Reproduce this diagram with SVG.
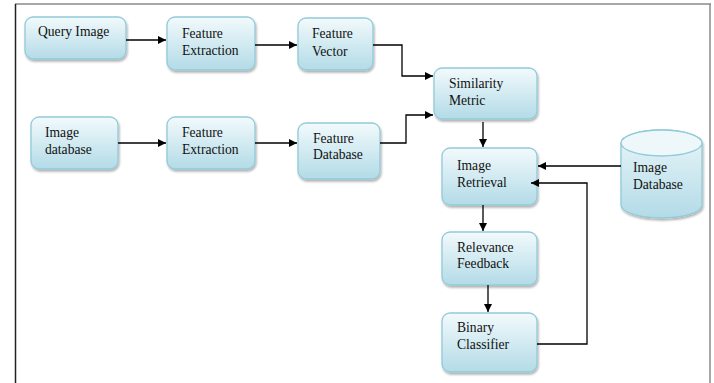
<svg xmlns="http://www.w3.org/2000/svg" width="714" height="383" viewBox="0 0 714 383">
<defs>
<linearGradient id="g" x1="0" y1="0" x2="0" y2="1">
<stop offset="0" stop-color="#f2fafc"/>
<stop offset="1" stop-color="#b3dbe7"/>
</linearGradient>
<linearGradient id="gc" x1="0" y1="0" x2="0" y2="1">
<stop offset="0" stop-color="#eaf6f9"/>
<stop offset="1" stop-color="#b3dbe7"/>
</linearGradient>
<filter id="sh" x="-10%" y="-10%" width="125%" height="130%">
<feDropShadow dx="1" dy="2" stdDeviation="1.2" flood-color="#000" flood-opacity="0.3"/>
</filter>
<marker id="ah" viewBox="0 0 10 10" refX="10" refY="5" markerWidth="8" markerHeight="8" markerUnits="userSpaceOnUse" orient="auto">
<path d="M0,0 L10,5 L0,10 z" fill="#000"/>
</marker>
</defs>
<style>
.box{fill:url(#g);stroke:#92cad9;stroke-width:1.3;filter:url(#sh)}
.t{font-family:"Liberation Serif","Times New Roman",serif;font-size:13.6px;fill:#111}
.c{fill:none;stroke:#000;stroke-width:1.3;marker-end:url(#ah)}
</style>
<rect width="714" height="383" fill="#fff"/>
<g id="frame">
<line x1="15" y1="4" x2="711" y2="4" stroke="#8a8a8a" stroke-width="1.5"/>
<line x1="710" y1="4" x2="710" y2="383" stroke="#8a8a8a" stroke-width="1.5"/>
<line x1="15.5" y1="4" x2="15.5" y2="383" stroke="#222" stroke-width="1.5"/>
</g>
<g id="n-query"><rect class="box" x="25" y="17" width="101" height="42" rx="8"/><text class="t" x="38" y="36">Query Image</text></g>
<g id="n-fe1"><rect class="box" x="167" y="17" width="88" height="53" rx="8"/><text class="t" x="182" y="38">Feature</text><text class="t" x="182" y="55">Extraction</text></g>
<g id="n-fv"><rect class="box" x="298" y="18" width="75" height="52" rx="8"/><text class="t" x="312" y="38">Feature</text><text class="t" x="312" y="56">Vector</text></g>
<g id="n-sm"><rect class="box" x="434" y="68" width="103" height="51" rx="8"/><text class="t" x="449" y="88">Similarity</text><text class="t" x="449" y="105">Metric</text></g>
<g id="n-imgdb"><rect class="box" x="31" y="117" width="87" height="52" rx="8"/><text class="t" x="45" y="137">Image</text><text class="t" x="45" y="154">database</text></g>
<g id="n-fe2"><rect class="box" x="167" y="117" width="88" height="52" rx="8"/><text class="t" x="182" y="137">Feature</text><text class="t" x="182" y="154">Extraction</text></g>
<g id="n-fd"><rect class="box" x="298" y="123" width="82" height="56" rx="8"/><text class="t" x="313" y="143">Feature</text><text class="t" x="313" y="159">Database</text></g>
<g id="n-ir"><rect class="box" x="442" y="148" width="95" height="57" rx="8"/><text class="t" x="457" y="170">Image</text><text class="t" x="457" y="187">Retrieval</text></g>
<g id="n-rf"><rect class="box" x="442" y="232" width="95" height="53" rx="8"/><text class="t" x="457" y="252">Relevance</text><text class="t" x="457" y="268">Feedback</text></g>
<g id="n-bc"><rect class="box" x="442" y="313" width="95" height="59" rx="8"/><text class="t" x="457" y="332">Binary</text><text class="t" x="457" y="349">Classifier</text></g>
<g id="n-cyl">
<path d="M621,143 L621,205 A40.5,13 0 0 0 702,205 L702,143 A40.5,13 0 0 0 621,143 Z" fill="url(#gc)" stroke="#92cad9" stroke-width="1.3" filter="url(#sh)"/>
<ellipse cx="661.5" cy="143" rx="40.5" ry="13" fill="#eef8fb" stroke="#92cad9" stroke-width="1.3"/>
<text class="t" x="633" y="172">Image</text><text class="t" x="633" y="189">Database</text>
</g>
<g id="connectors">
<path class="c" d="M126,40 L166,40"/>
<path class="c" d="M255,45 L297,45"/>
<path class="c" d="M373,45 L402,45 L402,76 L433,76"/>
<path class="c" d="M118,143 L166,143"/>
<path class="c" d="M255,143 L297,143"/>
<path class="c" d="M380,143 L406,143 L406,115 L433,115"/>
<path class="c" d="M483,122 L483,147"/>
<path class="c" d="M621,166 L538,166"/>
<path class="c" d="M537,344 L587,344 L587,183 L531,183"/>
<path class="c" d="M483,205 L483,231"/>
<path class="c" d="M488,285 L488,312"/>
</g>
</svg>
